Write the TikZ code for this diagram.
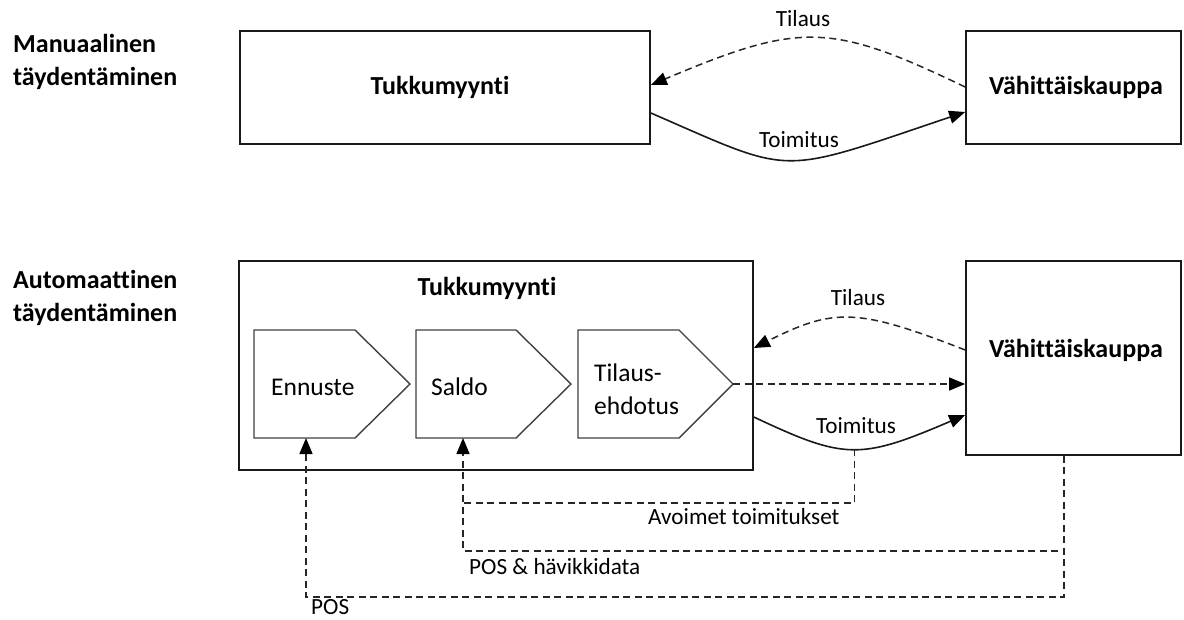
\documentclass[tikz,border=0pt]{standalone}
\usepackage{fontspec}
\setmainfont{Carlito}[Ligatures=NoCommon]
\usetikzlibrary{arrows.meta,calc}
\begin{document}
\begin{tikzpicture}[x=1pt,y=-1pt,
  box/.style={draw=black!90,line width=1.7pt,inner sep=0pt},
  penta/.style={draw=black!75,line width=1.4pt,line join=miter},
  boldlbl/.style={font=\fontsize{26}{33}\selectfont\bfseries,inner sep=0pt,anchor=base},
  pentatext/.style={font=\fontsize{25.5}{33}\selectfont,inner sep=0pt,anchor=base west},
  flowlbl/.style={font=\fontsize{23.2}{28}\selectfont,inner sep=0pt,anchor=base},
  dashedflow/.style={draw=black!85,line width=1.5pt,dash pattern=on 7pt off 4.5pt},
  solidflow/.style={draw=black!90,line width=1.6pt},
  arrowend/.style={-{Triangle[length=16pt,width=13pt,color=black]}},
]
\useasboundingbox (0,0) rectangle (1184,619);

% section labels
\node[boldlbl,anchor=base west] (man) at (13,52) {\vtop{\hbox{Manuaalinen}\hbox{täydentäminen}}};
\node[boldlbl,anchor=base west] (aut) at (13,288) {\vtop{\hbox{Automaattinen}\hbox{täydentäminen}}};

% top boxes
\node[box,minimum width=410pt,minimum height=113pt] (tl) at (445,87.5) {};
\node[box,minimum width=215pt,minimum height=113pt] (tr) at (1073.5,87.5) {};
\node[boldlbl] (tltxt) at (440,94) {Tukkumyynti};
\node[boldlbl] (trtxt) at (1076,94) {Vähittäiskauppa};

% top flows
\draw[dashedflow,arrowend] ([yshift=0.5pt]tr.west) .. controls (830,22) and (800,22) .. ([yshift=2.5pt]tl.east);
\node[flowlbl] (tilaus1) at (803,26) {Tilaus};
\draw[solidflow,arrowend] ([yshift=-25.5pt]tl.east) .. controls (796,176) and (775,176) .. ([yshift=-24.5pt]tr.west);
\node[flowlbl] (toim1) at (799,147) {Toimitus};

% bottom boxes
\node[box,minimum width=514pt,minimum height=209pt] (bb) at (496,365.5) {};
\node[box,minimum width=215pt,minimum height=194pt] (br) at (1073.5,358) {};
\node[boldlbl] (bbtxt) at (487,295.5) {Tukkumyynti};
\node[boldlbl] (brtxt) at (1076,357) {Vähittäiskauppa};

% pentagons
\draw[penta] (254,330) -- (355,330) -- (410,384) coordinate (p1tip) -- (355,438) -- (254,438) -- cycle;
\draw[penta] (416,330) -- (516,330) -- (571,384) coordinate (p2tip) -- (516,438) -- (416,438) -- cycle;
\draw[penta] (578,330) -- (679,330) -- (733,384) coordinate (p3tip) -- (679,438) -- (578,438) -- cycle;
\node[pentatext] (enntxt) at (271,395) {Ennuste};
\node[pentatext] (saltxt) at (431,395) {Saldo};
\node[pentatext] (tiltxt) at (594,381) {\vtop{\hbox{Tilaus-}\hbox{ehdotus}}};

\coordinate (p1in) at (306,438);
\coordinate (p2in) at (463,438);
\coordinate (avj) at (463,503);
\coordinate (posrow) at (306,597);
\coordinate (hvstart) at (1058,551);

% bottom flows
\draw[dashedflow,arrowend] ([yshift=8pt]br.west) .. controls (857,307.7) and (834,307.7) .. ([yshift=17.5pt]bb.east);
\node[flowlbl] (tilaus2) at (858,305) {Tilaus};
\draw[dashedflow,arrowend] (p3tip) -- (p3tip -| br.west);
\draw[solidflow,arrowend] ([yshift=-51.5pt]bb.east) .. controls (845,460) and (860,460) .. ([yshift=-57pt]br.west) coordinate[pos=0.5] (toimlow);
\node[flowlbl] (toim2) at (856,433) {Toimitus};

\draw[dashedflow] (toimlow) |- (avj);
\draw[dashedflow,arrowend] (hvstart) -| (p2in);
\draw[dashedflow,arrowend] ([xshift=-9.5pt]br.south) |- (posrow) -- (p1in);

\node[flowlbl,anchor=base west] (avo) at (648,524) {Avoimet toimitukset};
\node[flowlbl,anchor=base west] (pos2) at (469,574) {POS \& hävikkidata};
\node[flowlbl,anchor=base west] (pos1) at (311,614) {POS};
\end{tikzpicture}
\end{document}
